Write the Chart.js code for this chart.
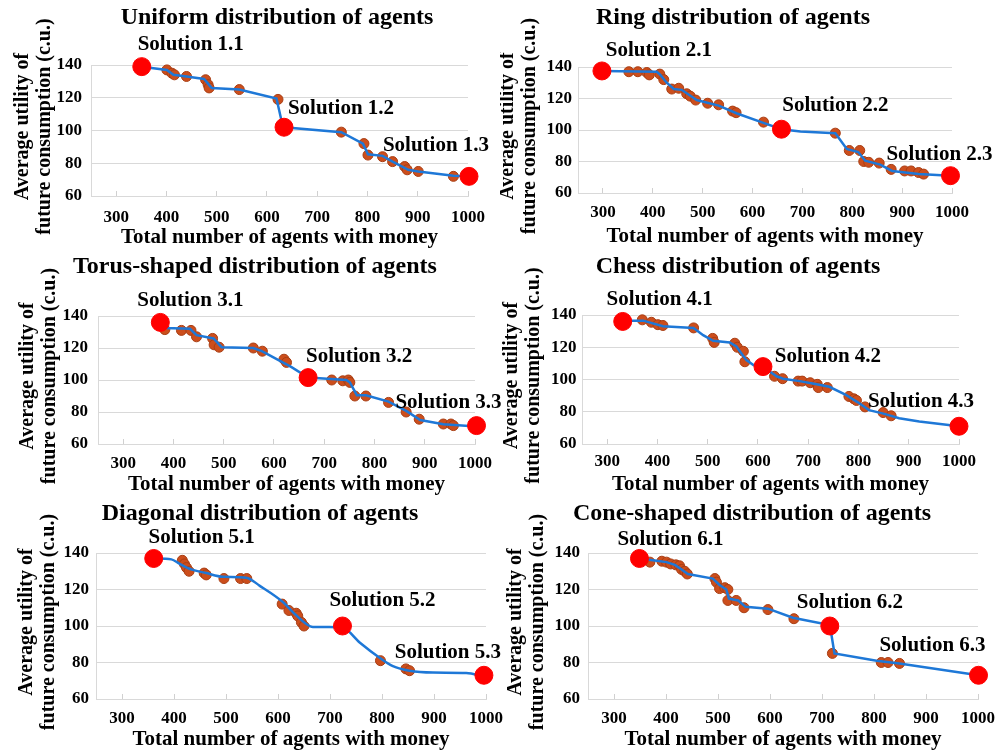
<!DOCTYPE html>
<html lang="en">
<head>
<meta charset="UTF-8">
<title>Average utility vs number of agents with money</title>
<script src="https://cdn.jsdelivr.net/npm/chart.js"></script>
<style>
  body { margin: 0; background: #fff; }
  #wrap { position: relative; width: 1003px; height: 754px; overflow: hidden; background: #fff; }
  canvas { position: absolute; }
</style>
</head>
<body>
<div id="wrap">
  <canvas id="c1"></canvas>
  <canvas id="c2"></canvas>
  <canvas id="c3"></canvas>
  <canvas id="c4"></canvas>
  <canvas id="c5"></canvas>
  <canvas id="c6"></canvas>
</div>
<script>
// axis ticks
const xTickValues = [300, 400, 500, 600, 700, 800, 900, 1000];
const yTickValues = [60, 80, 100, 120, 140];

// 1 - uniform
const uniformPoints = [[401,137],[411,135],[416,134],[440,133],[478,131],[483,128],[485,126],[545,125],[622,119],[748,99],[793,92],[801,85],[830,84],[850,81],[874,78],[879,76],[901,75],[971,72]];
const uniformLine = [[351,139],[401,137],[414,134],[440,133],[475,131.5],[490,126],[545,125],[619,119.5],[629,106],[634,102],[748,99],[791,92],[801,85.5],[830,84.5],[850,81],[881,76],[901,75],[971,72.3],[1002,72]];
const uniformSolutions = [[351,139],[634,102],[1002,72]];
const uniformNames = ['Solution 1.1', 'Solution 1.2', 'Solution 1.3'];

// 2 - ring
const ringPoints = [[352,137],[370,137],[388,136.5],[393,135],[414,135.5],[422,132],[438,126],[452,126.5],[468,123],[475,121.5],[486,119],[510,117],[532,116],[560,112],[567,111],[622,105],[766,98],[794,87],[815,87],[823,80],[833,79.5],[854,79],[878,75],[905,74],[918,74],[933,73],[943,72]];
const ringLine = [[298,137.5],[408,137],[415,135],[428,130],[442,126],[458,125.5],[488,119],[532,115.5],[569,110.5],[622,104.5],[658,100.5],[696,99],[766,98],[789,88],[812,86],[826,80.5],[856,78],[880,74],[933,72],[997,71]];
const ringSolutions = [[298,137.5],[658,100.5],[997,71]];
const ringNames = ['Solution 2.1', 'Solution 2.2', 'Solution 2.3'];

// 3 - torus
const torusPoints = [[383,131.5],[416,131],[435,131],[446,127],[478,126],[481,122],[491,120.5],[559,120],[577,118],[620,113],[625,111],[715,100],[737,99.5],[748,100],[751,98.5],[761,90],[783,90],[828,86],[863,80],[889,75.5],[937,72.5],[952,72.5],[957,71.5]];
const torusLine = [[374,136],[383,132.5],[433,132],[446,128],[480,126],[496,120.5],[559,120],[576,118],[635,108],[668,101.5],[744,100],[751,98.5],[765,90.5],[783,90.5],[828,86.5],[864,80.5],[891,75],[937,72.3],[1003,71]];
const torusSolutions = [[374,136],[668,101.5],[1003,71.5]];
const torusNames = ['Solution 3.1', 'Solution 3.2', 'Solution 3.3'];

// 4 - chess
const chessPoints = [[370,137],[388,135.5],[401,134],[411,133.5],[472,132],[510,125.5],[513,123],[554,122.5],[559,120],[571,117.5],[574,111],[633,102],[649,100.5],[680,99],[688,99],[704,98],[718,97],[720,95],[738,95],[781,89.5],[791,88],[796,87],[813,83],[849,79.5],[865,77.5]];
const chessLine = [[331,136.5],[372,136.5],[411,133],[472,132],[491,127.5],[511,124],[544,123],[557,120.5],[577,112],[591,109],[610,108],[637,102],[650,100.5],[683,99],[709,97.5],[742,95.5],[775,90.5],[798,86],[821,81],[848,79],[881,76],[921,74],[1000,71]];
const chessSolutions = [[331,136],[610,108],[1000,71]];
const chessNames = ['Solution 4.1', 'Solution 4.2', 'Solution 4.3'];

// 5 - diagonal
const diagonalPoints = [[416,136],[420,134],[424,132],[429,130],[458,129],[462,128],[496,126],[528,126],[540,126],[608,112],[621,108.5],[635,107],[638,105.5],[645,102],[650,100],[797,81],[846,76.5],[853,75.5]];
const diagonalLine = [[361,137],[395,136.5],[411,134],[433,131],[462,129],[494,127],[539,126.5],[565,122],[610,113],[629,107.5],[655,101],[667,99.5],[699,99.5],[725,99],[757,91],[796,82.5],[821,78],[853,75.5],[898,74.5],[962,74.3],[996,72.5]];
const diagonalSolutions = [[361,137],[724,100],[996,73]];
const diagonalNames = ['Solution 5.1', 'Solution 5.2', 'Solution 5.3'];

// 6 - cone
const conePoints = [[369,135],[392,135.5],[401,135],[409,134],[419,133.5],[426,133],[430,131],[436,130],[441,128.5],[494,126],[497,124],[503,120.5],[513,121],[519,120],[519,114],[535,114],[550,110],[596,109],[646,104],[720,85],[814,80],[827,80],[849,79.5]];
const coneLine = [[349,137],[375,136],[401,135],[417,133.5],[430,131],[442,128.5],[490,126],[503,122.5],[516,120],[521,115],[539,114],[553,110.5],[596,109.5],[644,104.5],[715,100.5],[718,95.5],[724,85],[805,81],[849,79.5],[1001,73]];
const coneSolutions = [[349,137],[715,100],[1001,73]];
const coneNames = ['Solution 6.1', 'Solution 6.2', 'Solution 6.3'];

const FONT = '"Liberation Serif", "Times New Roman", serif';

// page boxes: L/R/T/B = plot area edges in page pixels
const panels = [
  { id: 'c1', left: 0, top: 0, width: 503, height: 250, L: 91, R: 468, T: 65, B: 196,
    title: 'Uniform distribution of agents', titleX: 277, titleY: 18, yTitleX: 23,
    xTickPad: 11, yTickPad: 9, xTitlePad: 1,
    points: uniformPoints, line: uniformLine, sol: uniformSolutions, names: uniformNames,
    offsets: [[49, -22], [57, -19], [-33, -31]], smooth: false },
  { id: 'c2', left: 500, top: 0, width: 503, height: 250, L: 578, R: 952, T: 67, B: 193,
    title: 'Ring distribution of agents', titleX: 733, titleY: 18, yTitleX: 508,
    xTickPad: 9.5, yTickPad: 6, xTitlePad: 2,
    points: ringPoints, line: ringLine, sol: ringSolutions, names: ringNames,
    offsets: [[57, -20], [54, -24], [-11, -21]], smooth: false },
  { id: 'c3', left: 0, top: 250, width: 503, height: 250, L: 98, R: 475, T: 316, B: 444,
    title: 'Torus-shaped distribution of agents', titleX: 255, titleY: 267, yTitleX: 28,
    xTickPad: 9, yTickPad: 10, xTitlePad: 4,
    points: torusPoints, line: torusLine, sol: torusSolutions, names: torusNames,
    offsets: [[30, -22], [51, -21], [-28, -23]], smooth: false },
  { id: 'c4', left: 500, top: 250, width: 503, height: 250, L: 582, R: 959, T: 315, B: 444,
    title: 'Chess distribution of agents', titleX: 738, titleY: 267, yTitleX: 512,
    xTickPad: 7, yTickPad: 5.5, xTitlePad: 4,
    points: chessPoints, line: chessLine, sol: chessSolutions, names: chessNames,
    offsets: [[37, -22], [65, -10], [-38, -25]], smooth: false },
  { id: 'c5', left: 0, top: 500, width: 503, height: 254, L: 96, R: 486, T: 553, B: 699,
    title: 'Diagonal distribution of agents', titleX: 260, titleY: 514, yTitleX: 27,
    xTickPad: 9, yTickPad: 7, xTitlePad: 3,
    points: diagonalPoints, line: diagonalLine, sol: diagonalSolutions, names: diagonalNames,
    offsets: [[48, -21], [40, -25], [-36, -23]], smooth: true },
  { id: 'c6', left: 500, top: 500, width: 503, height: 254, L: 588, R: 978, T: 553, B: 699,
    title: 'Cone-shaped distribution of agents', titleX: 752, titleY: 514, yTitleX: 516,
    xTickPad: 9, yTickPad: 8, xTitlePad: 3,
    points: conePoints, line: coneLine, sol: coneSolutions, names: coneNames,
    offsets: [[31, -19], [20, -23], [-46, -30]], smooth: false }
];

// titles, solution labels and the two-line y title
function makeTextPlugin(p) {
  return {
    id: 'panelText',
    afterDraw(chart) {
      const ctx = chart.ctx;
      const xs = chart.scales.x, ys = chart.scales.y;
      const a = chart.chartArea;
      ctx.save();
      ctx.fillStyle = '#000';
      ctx.textAlign = 'center';
      ctx.textBaseline = 'middle';
      ctx.font = 'bold 24px ' + FONT;
      ctx.fillText(p.title, p.titleX - p.left, p.titleY - p.top);
      ctx.font = 'bold 21px ' + FONT;
      p.sol.forEach((s, i) => {
        ctx.fillText(p.names[i],
          xs.getPixelForValue(s[0]) + p.offsets[i][0],
          ys.getPixelForValue(s[1]) + p.offsets[i][1]);
      });
      ctx.font = 'bold 20px ' + FONT;
      ctx.translate(p.yTitleX - p.left, (a.top + a.bottom) / 2 - 4);
      ctx.rotate(-Math.PI / 2);
      ctx.fillText('Average utility of', 0, 0);
      ctx.fillText('future consumption (c.u.)', 0, 22);
      ctx.restore();
    }
  };
}

function zeroPad(s) {
  s.paddingLeft = 0; s.paddingRight = 0; s.paddingTop = 0; s.paddingBottom = 0;
}

function makeChart(p) {
  const cv = document.getElementById(p.id);
  cv.width = p.width;
  cv.height = p.height;
  cv.style.left = p.left + 'px';
  cv.style.top = p.top + 'px';
  const toXY = arr => arr.map(d => ({ x: d[0], y: d[1] }));

  new Chart(cv, {
    type: 'scatter',
    data: {
      datasets: [
        {
          label: 'Solutions',
          data: toXY(p.sol),
          backgroundColor: '#FF0000',
          borderColor: '#FF0000',
          pointRadius: 9,
          order: 0,
          clip: false
        },
        {
          type: 'line',
          label: 'Pareto front',
          data: toXY(p.line),
          borderColor: '#1E78D7',
          borderWidth: 2.5,
          pointRadius: 0,
          fill: false,
          tension: p.smooth ? 0.4 : 0,
          cubicInterpolationMode: p.smooth ? 'monotone' : 'default',
          order: 1,
          clip: false
        },
        {
          label: 'Alternatives',
          data: toXY(p.points),
          backgroundColor: '#CC4E1C',
          borderColor: '#A83E14',
          borderWidth: 1,
          pointRadius: 5,
          order: 2,
          clip: false
        }
      ]
    },
    options: {
      responsive: false,
      animation: false,
      layout: {
        padding: { left: 0, bottom: 0, top: p.T - p.top, right: p.left + p.width - p.R }
      },
      plugins: {
        legend: { display: false },
        tooltip: { enabled: false }
      },
      scales: {
        x: {
          type: 'linear',
          min: 250,
          max: 1000,
          afterBuildTicks: s => { s.ticks = xTickValues.map(v => ({ value: v })); },
          afterFit: s => { s.height = p.top + p.height - p.B; zeroPad(s); },
          grid: { display: true, drawOnChartArea: false, tickLength: -5, color: '#D0D0D0' },
          border: { display: true, color: '#D9D9D9' },
          ticks: {
            padding: p.xTickPad + 5,
            color: '#000',
            font: { family: FONT, size: 17, weight: 'bold' },
            callback: v => String(v)
          },
          title: {
            display: true,
            text: 'Total number of agents with money',
            color: '#000',
            font: { family: FONT, size: 21, weight: 'bold', lineHeight: 1.05 },
            padding: { top: 0, bottom: p.xTitlePad }
          }
        },
        y: {
          min: 60,
          max: 140,
          afterBuildTicks: s => { s.ticks = yTickValues.map(v => ({ value: v })); },
          afterFit: s => { s.width = p.L - p.left; zeroPad(s); },
          grid: { color: '#D9D9D9', drawTicks: false },
          border: { display: true, color: '#D9D9D9' },
          ticks: {
            padding: p.yTickPad,
            color: '#000',
            font: { family: FONT, size: 17, weight: 'bold' },
            callback: v => String(v)
          }
        }
      }
    },
    plugins: [makeTextPlugin(p)]
  });
}

panels.forEach(makeChart);
</script>
</body>
</html>
